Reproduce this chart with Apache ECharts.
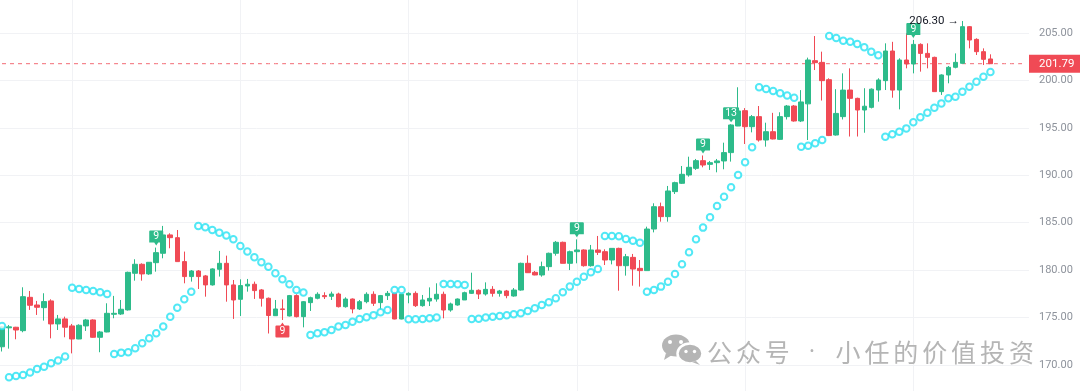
<!DOCTYPE html>
<html><head><meta charset="utf-8">
<script src="https://cdn.jsdelivr.net/npm/echarts@6/dist/echarts.min.js"></script>
<style>html,body{margin:0;padding:0;background:#fff}#c{width:1080px;height:391px}</style>
</head><body><div id="c"></div>
<script>
// ---- data ----
const opens = [171.9,173.9,173.96,173.6,177.12,176.31,176.03,176.74,174.31,174.84,
174.1,172.72,174.1,174.73,172.9,173.46,175.33,175.36,175.79,179.66,
180.61,179.59,180.78,181.77,183.71,183.42,180.89,179.31,179.9,179.38,
178.43,180.08,180.71,178.43,176.91,178.32,178.5,177.9,177.02,175.18,
175.9,175.15,177.3,175.08,176.56,177.02,177.3,177.23,177.47,176.13,
176.94,175.89,176.66,177.44,176.56,177.3,177.54,174.83,177.37,177.54,
176.24,176.73,176.94,177.44,175.78,176.31,176.84,177.54,177.86,177.47,
177.96,177.54,177.79,177.26,177.89,180.71,179.76,179.48,180.36,181.77,
182.93,180.71,181.94,182.12,180.46,182.12,181.94,181.06,182.29,180.46,
181.34,180.18,179.94,184.33,186.69,185.64,188.28,189.16,190.04,190.74,
191.55,191.16,191.34,191.52,192.4,195.21,196.83,195.14,196.2,193.73,
194.61,193.8,196.2,197.32,195.74,197.55,202.11,201.93,200.1,194.26,
196.2,199.01,198.13,196.9,197.18,199.01,200.0,203.13,199.01,202.18,
201.76,203.83,202.88,202.46,198.84,200.6,201.41,201.83,205.7,204.36,
203.06,202.29];
const closes = [174.0,174.0,173.67,177.19,176.28,176.07,176.67,174.31,174.84,173.96,
172.72,174.17,174.73,172.9,173.46,175.43,175.43,175.86,179.76,180.61,
179.59,180.82,181.84,183.71,183.42,180.89,179.31,179.9,179.31,178.43,
180.12,180.71,178.43,176.84,178.36,178.5,177.83,177.02,175.2,175.89,
175.83,177.3,175.08,176.66,177.08,177.44,177.19,177.47,176.13,176.94,
175.89,176.66,177.44,176.49,177.3,177.54,174.83,177.44,177.54,176.24,
176.84,177.01,177.44,175.78,176.42,176.94,177.61,177.86,177.47,177.96,
177.54,177.79,177.3,177.89,180.71,179.72,179.48,180.36,181.77,182.93,
180.71,181.94,182.12,180.46,182.12,181.87,181.06,182.29,180.46,181.41,
180.11,179.94,184.33,186.69,185.64,188.35,189.23,190.11,190.85,191.55,
191.09,191.34,191.52,192.4,195.32,196.8,195.14,196.2,193.73,194.61,
193.84,196.2,197.32,195.74,197.75,202.18,201.9,200.0,194.2,196.54,
199.0,198.13,196.9,197.3,199.1,200.07,203.13,199.0,202.18,201.76,
203.83,202.88,202.46,198.84,200.6,201.41,201.93,205.7,204.29,203.06,
202.25,201.79];
const lows = [171.4,171.7,172.69,173.43,175.79,175.26,174.66,172.79,173.67,172.9,
171.2,172.7,173.57,172.86,171.32,173.43,174.91,175.26,175.72,178.88,
178.88,179.5,179.83,181.24,182.3,180.89,178.6,178.78,178.0,177.19,
178.36,179.31,176.66,174.84,175.15,177.72,176.95,176.14,173.3,175.15,
174.73,175.1,175.0,173.95,175.68,176.91,176.94,176.84,176.05,176.03,
175.43,175.78,176.49,176.21,175.78,176.84,174.8,174.8,176.49,176.1,
176.13,176.2,176.66,174.9,175.6,176.24,176.84,177.47,176.94,177.3,
177.19,177.19,177.02,177.19,177.82,179.7,179.45,179.3,179.94,181.52,
180.71,180.0,180.71,180.36,180.36,181.59,180.53,180.6,177.82,179.41,
178.35,178.25,179.94,183.98,185.11,185.11,188.03,189.09,189.86,190.57,
190.85,190.57,190.32,190.64,191.45,195.2,193.31,194.54,193.56,193.03,
193.8,193.73,195.9,195.67,195.63,193.73,201.12,197.9,194.15,194.2,
195.9,194.1,194.1,194.5,197.07,197.78,199.01,198.2,196.97,201.3,
200.77,200.95,201.3,198.84,198.49,199.72,201.3,201.83,203.41,202.71,
201.65,201.76];
const highs = [174.1,174.2,174.0,178.18,177.79,176.74,177.55,176.91,175.26,175.08,
174.31,174.27,174.84,174.8,173.57,176.49,177.27,176.84,179.83,181.14,
180.71,180.85,182.37,184.66,183.88,184.23,181.95,180.0,180.0,179.48,
180.19,182.02,181.52,178.95,179.02,179.06,178.78,178.0,177.1,176.84,
176.9,177.37,177.44,176.73,177.19,177.65,177.65,177.72,177.61,177.12,
177.0,176.84,177.65,177.75,177.37,177.79,177.72,177.5,177.65,177.75,
177.37,178.17,178.6,177.72,176.56,177.0,177.72,179.72,177.96,178.7,
178.3,177.9,177.9,178.1,180.78,181.55,179.9,180.89,181.84,183.07,
183.0,182.05,183.24,182.19,182.65,183.6,182.19,182.29,182.36,181.7,
181.7,181.06,184.58,187.05,187.12,188.88,189.33,190.99,191.97,191.73,
192.1,191.52,191.73,193.45,195.4,199.3,197.1,196.37,197.32,195.56,
196.6,196.66,197.43,197.43,199.0,202.43,204.71,203.06,200.25,199.1,
200.77,201.3,198.2,199.2,199.18,200.25,203.94,204.1,202.36,205.0,
204.29,203.94,203.94,202.53,200.67,201.55,202.88,206.3,205.77,204.47,
203.41,202.78];
// Parabolic SAR dots
const sar = [174.1,168.68,168.82,168.92,169.17,169.56,169.8,170.16,170.44,170.86,
178.14,178.0,177.9,177.79,177.65,177.48,171.14,171.28,171.32,171.74,
172.27,172.79,173.32,174.03,175.08,176.03,176.91,177.72,184.66,184.52,
184.23,183.95,183.64,183.25,182.54,181.95,181.35,180.82,180.36,179.66,
179.02,178.5,177.9,177.62,173.15,173.32,173.43,173.67,174.03,174.2,
174.55,174.84,175.01,175.24,175.54,175.79,177.89,177.89,174.8,174.8,
174.84,174.91,174.98,178.53,178.53,178.5,178.43,174.84,174.87,174.98,
175.08,175.15,175.22,175.33,175.43,175.68,175.96,176.31,176.59,177.02,
177.65,178.25,178.77,179.3,179.76,180.11,183.6,183.6,183.56,183.28,
183.1,182.89,177.72,177.89,178.25,178.77,179.58,180.6,181.87,183.24,
184.48,185.57,186.76,187.75,188.74,190.04,191.38,192.96,199.3,199.12,
198.91,198.66,198.42,198.2,193.02,193.13,193.38,193.73,204.72,204.5,
204.22,204.1,203.88,203.52,203.06,202.68,194.08,194.33,194.61,194.96,
195.6,196.13,196.62,197.15,197.6,198.13,198.31,198.84,199.36,199.89,
200.42,200.91];
// TD sequential labels
const tdIndex = [22, 40, 82, 100, 104, 130];
const tdText = ['9', '9', '9', '9', '13', '9'];
const tdSide = ['up', 'down', 'up', 'up', 'up', 'up'];
// axis
const yTicks = {min: 165, max: 210, interval: 5};
const slotCount = 147; // 142 candles + empty space on the right
const categories = [];
for (let i = 0; i < slotCount; i++) categories.push(String(i + 1));
const watermarkParts = ['公众号', '·', '小任的价值投资'];

// ---- chart ----
const UP = '#2dbb8a', DOWN = '#f04a55', SARC = '#27e2f3', PRICE = '#f26b74';
const ohlc = opens.map((o, i) => [o, closes[i], lows[i], highs[i]]);
const last = closes[closes.length - 1];
let hiIdx = 0;
highs.forEach((h, i) => { if (h > highs[hiIdx]) hiIdx = i; });

const pathUp = 'path://M1,0H13Q14,0 14,1V12H9L7,15L5,12H0V1Q0,0 1,0Z';
const pathDown = 'path://M5,3L7,0L9,3H13Q14,3 14,4V14Q14,15 13,15H1Q0,15 0,14V4Q0,3 1,3Z';
const tdPoints = tdIndex.map((idx, k) => {
  const up = tdSide[k] === 'up';
  const w = tdText[k].length > 1 ? 16 : 14;
  return {
    coord: [idx, up ? highs[idx] : lows[idx]],
    symbol: up ? pathUp : pathDown,
    symbolSize: [w, 15],
    symbolOffset: [0, up ? -9.5 : 10],
    itemStyle: {color: up ? UP : DOWN},
    label: {show: true, position: 'inside', formatter: tdText[k], color: '#fff',
            fontSize: 10.5, fontFamily: 'Roboto', offset: [0, up ? -1.5 : 1.5]}
  };
});
const hiPoint = {
  coord: [hiIdx, highs[hiIdx]], symbol: 'circle', symbolSize: 1,
  itemStyle: {color: 'rgba(0,0,0,0)'},
  label: {show: true, position: 'left', distance: 3, formatter: highs[hiIdx].toFixed(2) + ' \u2192',
          color: '#131722', fontSize: 11.5, fontFamily: 'Roboto'}
};

// watermark (layout only)
const WM_FONT = '25px "Noto Sans CJK SC"', WM_COL = '#b5b5b5', pitch = 28.9;
const wmChars = [];
const placeRun = (txt, x0) => {
  let x = x0;
  for (const ch of txt) {
    wmChars.push({type: 'text', x: x, y: 352, silent: true, z: 100,
      style: {text: ch, font: WM_FONT, fill: WM_COL, verticalAlign: 'middle', align: 'left'}});
    x += pitch;
  }
};
placeRun(watermarkParts[0], 707);
wmChars.push({type: 'text', x: 812, y: 352, silent: true, z: 100,
  style: {text: watermarkParts[1], font: '22px "Noto Sans"', fill: WM_COL, verticalAlign: 'middle', align: 'center'}});
placeRun(watermarkParts[2], 835.5);
const wechat = [
  {type: 'ellipse', shape: {cx: 676, cy: 345.5, rx: 14, ry: 11}, style: {fill: WM_COL}, silent: true},
  {type: 'polygon', shape: {points: [[666, 353], [664, 360], [672, 355]]}, style: {fill: WM_COL}, silent: true},
  {type: 'circle', shape: {cx: 670, cy: 342, r: 2}, style: {fill: '#fff'}, silent: true},
  {type: 'circle', shape: {cx: 681, cy: 342, r: 2}, style: {fill: '#fff'}, silent: true},
  {type: 'ellipse', shape: {cx: 690, cy: 353.5, rx: 12.5, ry: 10}, style: {fill: WM_COL, stroke: '#fff', lineWidth: 2.5}, silent: true},
  {type: 'polygon', shape: {points: [[696, 361], [700, 365], [692, 362]]}, style: {fill: WM_COL}, silent: true},
  {type: 'circle', shape: {cx: 686, cy: 351.5, r: 1.7}, style: {fill: '#fff'}, silent: true},
  {type: 'circle', shape: {cx: 694.5, cy: 351.5, r: 1.7}, style: {fill: '#fff'}, silent: true}
];

const chart = echarts.init(document.getElementById('c'));
chart.setOption({
  animation: false,
  backgroundColor: '#ffffff',
  grid: {left: -1.5, right: 51, top: -14.05, bottom: -21.1, outerBoundsMode: 'none', containLabel: false},
  xAxis: {
    type: 'category', data: categories, boundaryGap: true,
    axisLine: {show: false}, axisTick: {show: false}, axisLabel: {show: false},
    splitLine: {show: true, alignWithLabel: true, interval: (i) => i >= 10 && (i - 10) % 24 === 0,
                lineStyle: {color: '#f1f2f5', width: 1}}
  },
  yAxis: {
    type: 'value', position: 'right', scale: true,
    min: yTicks.min, max: yTicks.max, interval: yTicks.interval,
    axisLine: {show: false}, axisTick: {show: false},
    axisLabel: {color: '#8e939c', fontSize: 11, fontFamily: 'Roboto', margin: 10,
                formatter: (v) => v.toFixed(2)},
    splitLine: {lineStyle: {color: '#f1f2f5', width: 1}}
  },
  series: [
    {
      // last-price dashed line across the plot
      type: 'line', data: categories.map(() => last), symbol: 'none', silent: true, z: 1,
      color: PRICE, lineStyle: {color: PRICE, width: 1, type: [4, 4]},
      markLine: {
        silent: true, symbol: 'none',
        lineStyle: {color: 'rgba(255,255,255,0)', width: 1, type: 'solid'},
        label: {show: true, position: 'end', distance: 0, formatter: (p) => p.value.toFixed(2),
                backgroundColor: '#f04a55', color: '#fff', fontSize: 11.5, fontFamily: 'Roboto',
                padding: [3, 7, 3, 10], lineHeight: 12, opacity: 1},
        data: [{yAxis: last}]
      }
    },
    {
      type: 'candlestick', data: ohlc, barWidth: 5, z: 2,
      itemStyle: {color: UP, color0: DOWN, borderColor: UP, borderColor0: DOWN, borderWidth: 1},
      markPoint: {silent: true, data: tdPoints.concat([hiPoint])}
    },
    {
      type: 'scatter', data: sar.map((v, i) => [i, v]), symbol: 'emptyCircle', symbolSize: 6.5,
      itemStyle: {color: SARC, borderColor: SARC, borderWidth: 1.5}, z: 5, silent: true
    }
  ],
  graphic: wechat.concat(wmChars)
});
</script>
</body></html>
